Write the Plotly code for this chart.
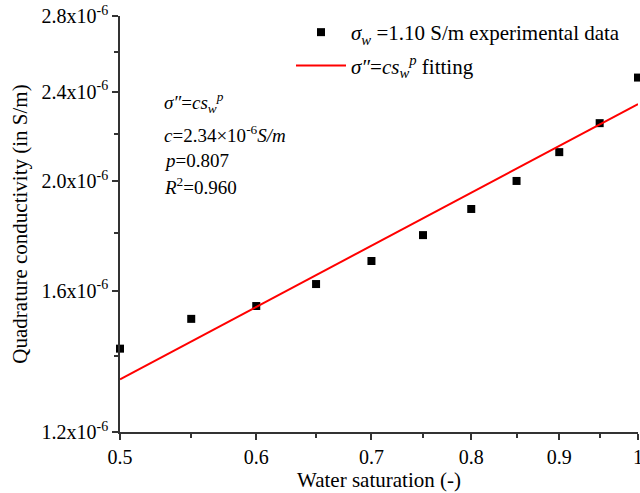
import plotly.graph_objects as go
import math

# Data
sw = [0.5, 0.55, 0.6, 0.65, 0.7, 0.75, 0.8, 0.85, 0.9, 0.95, 1.0]
sigma_q = [1.422e-6, 1.511e-6, 1.551e-6, 1.622e-6, 1.700e-6, 1.792e-6,
           1.890e-6, 2.001e-6, 2.122e-6, 2.251e-6, 2.470e-6]
fit_x = [0.5, 1.0]
fit_y = [1.336e-6, 2.34e-6]

x_ticks = [0.5, 0.6, 0.7, 0.8, 0.9, 1.0]
x_ticktext = ["0.5", "0.6", "0.7", "0.8", "0.9", "1"]
x_minor = [0.55, 0.65, 0.75, 0.85, 0.95]
y_ticks = [1.2e-6, 1.6e-6, 2.0e-6, 2.4e-6, 2.8e-6]
y_ticktext = ["1.2x10<sup>-6</sup>", "1.6x10<sup>-6</sup>", "2.0x10<sup>-6</sup>",
              "2.4x10<sup>-6</sup>", "2.8x10<sup>-6</sup>"]
y_minor = [1.4e-6, 1.8e-6, 2.2e-6, 2.6e-6]

FONT = "Liberation Serif"
AX = "#333333"

fig = go.Figure()
fig.add_trace(go.Scatter(
    x=sw, y=sigma_q, mode="markers",
    marker=dict(symbol="square", size=8, color="black"),
    name="<i>σ<sub>w</sub></i> =1.10 S/m experimental data",
    legendgroup="a", cliponaxis=False))
fig.add_trace(go.Scatter(
    x=fit_x, y=fit_y, mode="lines",
    line=dict(color="#ff0000", width=2),
    name="<i>σ″</i>=<i>cs</i><sub><i>w</i></sub><sup><i>p</i></sup> fitting",
    legendgroup="b"))

L, R, T, B = 120, 2, 16, 61
W, H = 640, 493
pw, ph = W - L - R, H - T - B

def px(xp):
    return (xp - L) / pw

def py(yp):
    return (H - B - yp) / ph

ann_lines = [
    ("<i>σ″</i>=<i>cs</i><sub><i>w</i></sub><sup><i>p</i></sup>", 102),
    ("<i>c</i>=2.34×10<sup>-6</sup><i>S/m</i>", 134),
    ("<i>p</i>=0.807", 160),
    ("<i>R</i><sup>2</sup>=0.960", 186),
]
for txt, yy in ann_lines:
    fig.add_annotation(x=px(162), y=py(yy), xref="paper", yref="paper",
                       text=txt, showarrow=False, xanchor="left", yanchor="middle",
                       font=dict(family=FONT, size=19, color="black"))

fig.update_layout(
    width=W, height=H,
    margin=dict(l=L, r=R, t=T, b=B, autoexpand=False),
    paper_bgcolor="white", plot_bgcolor="white",
    font=dict(family=FONT, size=20, color="black"),
    showlegend=True,
    legend=dict(x=px(291), y=py(12), xanchor="left", yanchor="top",
                bgcolor="rgba(0,0,0,0)", font=dict(family=FONT, size=21, color="black"),
                tracegroupgap=3, traceorder="grouped", itemwidth=50),
    xaxis=dict(type="log", range=[math.log10(0.5), 0.0],
               tickmode="array", tickvals=x_ticks, ticktext=x_ticktext,
               ticks="outside", ticklen=6, tickwidth=1.5, tickcolor=AX,
               ticklabeloverflow="allow",
               showline=True, linecolor=AX, linewidth=1.5, showgrid=False, zeroline=False,
               minor=dict(tickmode="array", tickvals=x_minor, ticks="outside",
                          ticklen=4, tickwidth=1.5, tickcolor=AX, showgrid=False),
               tickfont=dict(family=FONT, size=20, color="black"),
               title=dict(text="Water saturation (-)", standoff=6,
                          font=dict(family=FONT, size=21, color="black"))),
    yaxis=dict(type="log", range=[math.log10(1.2e-6), math.log10(2.8e-6)],
               tickmode="array", tickvals=y_ticks, ticktext=y_ticktext,
               ticks="outside", ticklen=6, tickwidth=1.5, tickcolor=AX,
               ticklabeloverflow="allow",
               showline=True, linecolor=AX, linewidth=1.5, showgrid=False, zeroline=False,
               minor=dict(tickmode="array", tickvals=y_minor, ticks="outside",
                          ticklen=4, tickwidth=1.5, tickcolor=AX, showgrid=False),
               tickfont=dict(family=FONT, size=20, color="black"),
               title=dict(text="Quadrature conductivity (in S/m)", standoff=8,
                          font=dict(family=FONT, size=21, color="black"))),
)

fig.write_html("out.html")
